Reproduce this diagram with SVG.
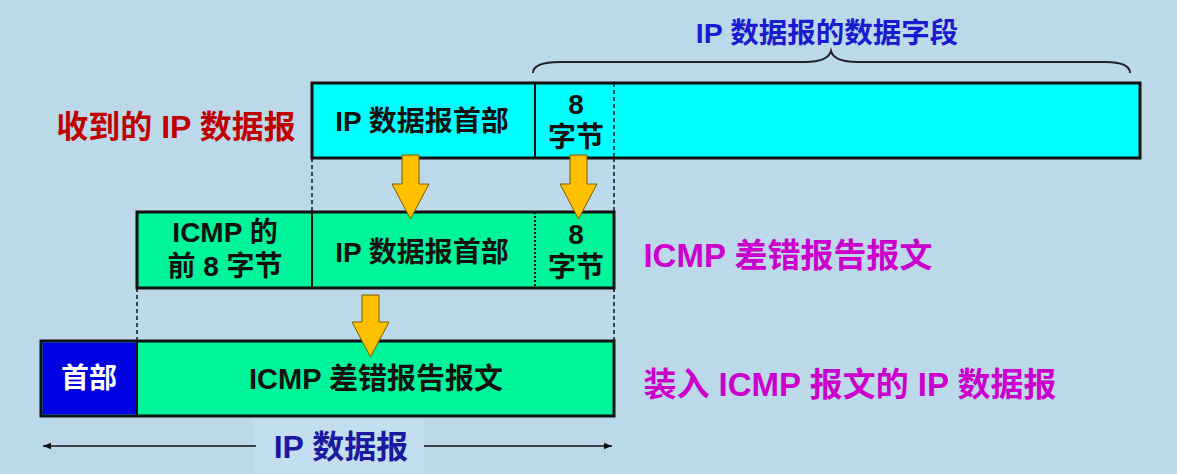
<svg xmlns="http://www.w3.org/2000/svg" width="1177" height="474" viewBox="0 0 1177 474">
<defs>
<style>
.t{font-family:"Liberation Sans","Noto Sans CJK SC",sans-serif;font-weight:bold;text-anchor:middle;dominant-baseline:central}
.box{stroke:#111;stroke-width:3}
.div{stroke:#111;stroke-width:2}
.dash{stroke:#111;stroke-width:1.5;stroke-dasharray:4 3;fill:none}
.dot{stroke:#111;stroke-width:2;stroke-dasharray:2 2;fill:none}
.arr{fill:#ffc000;stroke:#7a5a00;stroke-width:1}
</style>
<marker id="ah" viewBox="0 0 10 10" refX="10" refY="5" markerWidth="10" markerHeight="8" orient="auto-start-reverse" markerUnits="userSpaceOnUse">
<path d="M0,1 L10,5 L0,9 z" fill="#111"/>
</marker>
</defs>
<rect width="1177" height="474" fill="#bcd9ea"/>

<g id="label-received">
<text class="t" x="176" y="127" font-size="32" fill="#c00000">收到的 IP 数据报</text>
</g>
<g id="label-datafield">
<text class="t" x="827" y="33" font-size="28.5" fill="#1a1ad0">IP 数据报的数据字段</text>
</g>
<g id="label-icmp">
<text class="t" x="788" y="255" font-size="33" fill="#cc00cc">ICMP 差错报告报文</text>
</g>
<g id="label-ipdatagram">
<text class="t" x="850" y="384" font-size="33" fill="#cc00cc">装入 ICMP 报文的 IP 数据报</text>
</g>

<g id="row1">
<rect class="box" x="312" y="83" width="828" height="75" fill="#00ffff"/>
<line class="div" x1="535" y1="83" x2="535" y2="158"/>
<line class="dash" x1="614" y1="83" x2="614" y2="158"/>
<text class="t" x="422" y="121" font-size="28" fill="#111">IP 数据报首部</text>
<text class="t" x="576" y="104" font-size="28" fill="#111">8</text>
<text class="t" x="576" y="137" font-size="28" fill="#111">字节</text>
</g>

<g id="row2">
<rect class="box" x="137" y="212" width="477" height="76" fill="#00f59a"/>
<line class="div" x1="312" y1="212" x2="312" y2="288"/>
<line class="dot" x1="535" y1="212" x2="535" y2="288"/>
<text class="t" x="225" y="232" font-size="28" fill="#111">ICMP 的</text>
<text class="t" x="225" y="266" font-size="28" fill="#111">前 8 字节</text>
<text class="t" x="422" y="252" font-size="28" fill="#111">IP 数据报首部</text>
<text class="t" x="576" y="234" font-size="28" fill="#111">8</text>
<text class="t" x="576" y="267" font-size="28" fill="#111">字节</text>
</g>

<g id="row3">
<rect class="box" x="41" y="341" width="573" height="75" fill="#00f59a"/>
<rect x="42.5" y="342.5" width="94.5" height="72" fill="#0000e0"/>
<line class="div" x1="137" y1="341" x2="137" y2="416"/>
<text class="t" x="89" y="378" font-size="28" fill="#ffffff">首部</text>
<text class="t" x="376" y="379" font-size="29" fill="#111">ICMP 差错报告报文</text>
</g>

<g id="connectors">
<line class="dash" x1="312" y1="158" x2="312" y2="212"/>
<line class="dash" x1="614" y1="158" x2="614" y2="212"/>
<line class="dash" x1="137" y1="288" x2="137" y2="341"/>
<line class="dash" x1="614" y1="288" x2="614" y2="341"/>
<path d="M533,73 Q533,62 560,62 L805,62 Q828,62 831,51 Q834,62 857,62 L1105,62 Q1130,62 1130,73" fill="none" stroke="#222" stroke-width="2"/>
<path class="arr" d="M402,155 L419,155 L419,184 L429,184 L410.5,219 L392,184 L402,184 Z"/>
<path class="arr" d="M570,155 L587,155 L587,184 L597,184 L578.5,219 L560,184 L570,184 Z"/>
<path class="arr" d="M362,295 L379,295 L379,322 L389,322 L370.5,357 L352,322 L362,322 Z"/>
</g>

<g id="label-dimension">
<rect x="254" y="420" width="170" height="54" fill="#c3deee"/>
<line x1="43" y1="446" x2="256" y2="446" stroke="#111" stroke-width="1.5" marker-start="url(#ah)"/>
<line x1="424" y1="446" x2="612" y2="446" stroke="#111" stroke-width="1.5" marker-end="url(#ah)"/>
<text class="t" x="341" y="447" font-size="32" fill="#1a1aa0">IP 数据报</text>
</g>
</svg>
